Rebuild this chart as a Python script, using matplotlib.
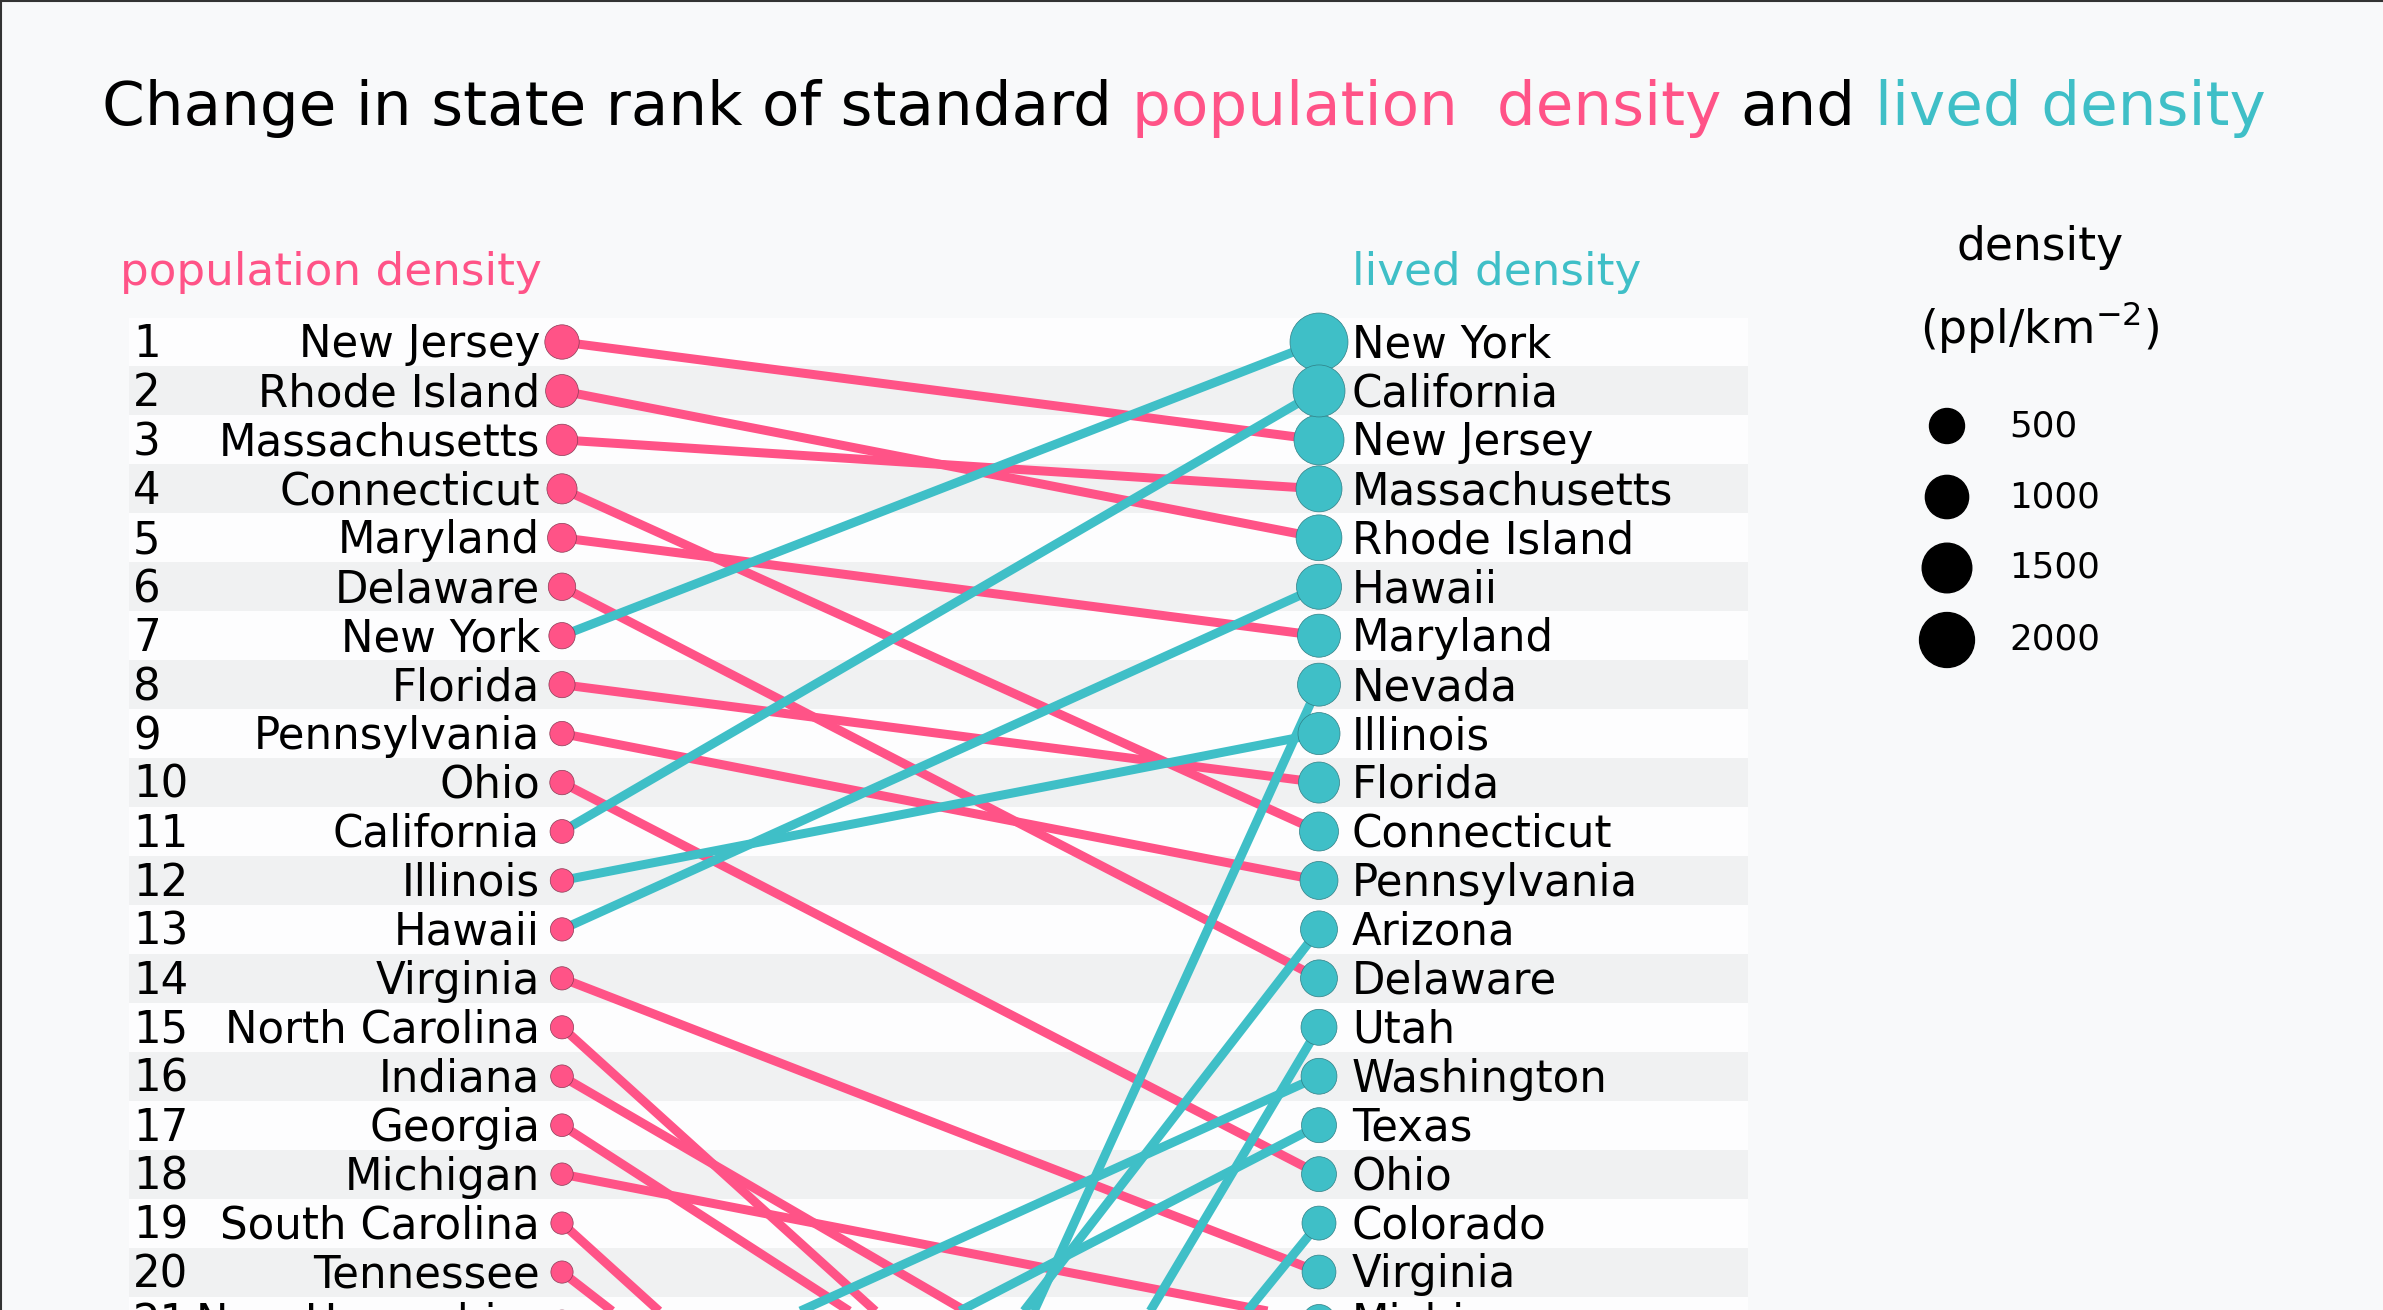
import numpy as np
import matplotlib
matplotlib.use("Agg")
import matplotlib.pyplot as plt
from matplotlib.lines import Line2D

plt.rcParams['font.family'] = ['DejaVu Sans']

# data (ranks are 1 = densest)
states = ['New Jersey', 'Rhode Island', 'Massachusetts', 'Connecticut', 'Maryland',
          'Delaware', 'New York', 'Florida', 'Pennsylvania', 'Ohio', 'California',
          'Illinois', 'Hawaii', 'Virginia', 'North Carolina', 'Indiana', 'Georgia',
          'Michigan', 'South Carolina', 'Tennessee', 'New Hampshire', 'Washington',
          'Texas', 'Arizona', 'Colorado', 'Utah', 'Nevada']
pop_rank = [1, 2, 3, 4, 5, 6, 7, 8, 9, 10, 11, 12, 13, 14, 15, 16, 17, 18, 19, 20,
            21, 23, 25, 33, 38, 41, 42]
lived_rank = [3, 5, 4, 11, 7, 14, 1, 10, 12, 18, 2, 9, 6, 20, 29, 25, 27, 21, 33, 32,
              36, 16, 17, 13, 19, 15, 8]
# people per km2
pop_density = [470, 394, 336, 286, 241, 193, 159, 154, 110, 110, 97, 89, 85, 84, 83,
               73, 73, 68, 66, 64, 59, 44, 43, 25, 21, 15, 11]
lived_density = [1540, 1190, 1205, 720, 985, 600, 2320, 850, 660, 495, 1720, 915, 1130,
                 445, 340, 370, 355, 405, 300, 320, 280, 545, 500, 605, 450, 550, 980]
legend_values = [500, 1000, 1500, 2000]

pink = '#ff5387'
teal = '#3fbfc7'
bg = '#f8f9fa'

W, H, DPI = 2383, 1310, 100
fig = plt.figure(figsize=(W / DPI, H / DPI), dpi=DPI, facecolor=bg)
renderer = fig.canvas.get_renderer()

# axes covers whole figure; x: 0 = left dots, 1 = right dots; y: rank
x0_px, x1_px = 562, 1319
r1_px, row_px = 342, 48.95
ax = fig.add_axes([0, 0, 1, 1])
ax.set_facecolor(bg)
ax.set_xlim(-x0_px / (x1_px - x0_px), (W - x0_px) / (x1_px - x0_px))
ax.set_ylim(1 + (H - r1_px) / row_px, 1 - r1_px / row_px)
ax.axis('off')


def px2x(px):
    return (px - x0_px) / (x1_px - x0_px)


def diam(v):
    # marker diameter in pixels, linear in sqrt(density)
    return 15.1 + 0.89 * np.sqrt(np.asarray(v, dtype=float))


def msize(v):
    return (diam(v) * 72 / DPI) ** 2


def fit_size(txt, width_px, fs0=30, **kw):
    # font size that makes txt come out width_px wide
    t = fig.text(0, 0, txt, fontsize=fs0, **kw)
    w = t.get_window_extent(renderer).width
    t.remove()
    return fs0 * width_px / w


# striped rows
rows = np.arange(1, 26)
band_l, band_r = px2x(129), px2x(1748)
ax.barh(rows, band_r - band_l, left=band_l, height=1.0,
        color=['#fdfdfe' if r % 2 else '#f0f1f2' for r in rows], zorder=0)

# slope lines
lw = 9 * 72 / DPI
for i in range(len(states)):
    if lived_rank[i] >= pop_rank[i]:
        ax.plot([0, 1], [pop_rank[i], lived_rank[i]], color=pink, lw=lw,
                solid_capstyle='butt', zorder=2)
for i in range(len(states)):
    if lived_rank[i] < pop_rank[i]:
        ax.plot([0, 1], [pop_rank[i], lived_rank[i]], color=teal, lw=lw,
                solid_capstyle='butt', zorder=3)

ax.scatter(np.zeros(len(states)), pop_rank, s=msize(pop_density), color=pink,
           edgecolor='#8a3a55', linewidth=0.5, zorder=4)
ax.scatter(np.ones(len(states)), lived_rank, s=msize(lived_density), color=teal,
           edgecolor='#2f7f85', linewidth=0.5, zorder=4)

lab_fs = fit_size('Massachusetts', 322)
dy = 0.06
for i, s in enumerate(states):
    if pop_rank[i] <= 22:
        ax.text(px2x(133), pop_rank[i] + dy, str(pop_rank[i]), fontsize=lab_fs,
                ha='left', va='center', zorder=5)
        ax.text(px2x(540), pop_rank[i] + dy, s, fontsize=lab_fs, ha='right',
                va='center', zorder=5)
    if lived_rank[i] <= 22:
        ax.text(px2x(1352), lived_rank[i] + dy, s, fontsize=lab_fs, ha='left',
                va='center', zorder=5)

sub_fs = fit_size('population density', 420)
ax.text(px2x(120), -0.42, 'population density', fontsize=sub_fs, color=pink,
        ha='left', va='center')
ax.text(px2x(1352), -0.42, 'lived density', fontsize=sub_fs, color=teal,
        ha='left', va='center')

# multi-colour title
title_parts = ['Change in state rank of standard', 'population  density', 'and',
               'lived density']
title_cols = ['black', pink, 'black', teal]
t_fs = fit_size('Change in state rank of standard population  density and '
                'lived density', 2163)
probe1 = fig.text(0, 0, 'a a', fontsize=t_fs)
probe2 = fig.text(0, 0, 'aa', fontsize=t_fs)
space = (probe1.get_window_extent(renderer).width
         - probe2.get_window_extent(renderer).width)
probe1.remove()
probe2.remove()
xpos = 102
for part, col in zip(title_parts, title_cols):
    t = fig.text(xpos / W, 1 - 109 / H, part, fontsize=t_fs, color=col,
                 ha='left', va='center')
    xpos += t.get_window_extent(renderer).width + space

# size legend
leg_fs = fit_size('density', 167)
fig.text(2040 / W, 1 - 248 / H, 'density', fontsize=leg_fs, ha='center',
         va='center')
fig.text(2040 / W, 1 - 327 / H, '(ppl/km$^{-2}$)', fontsize=leg_fs, ha='center',
         va='center')
leg_y = [426, 497, 568, 640]
num_fs = fit_size('500', 68)
for v, yp in zip(legend_values, leg_y):
    fig.text(2009 / W, 1 - yp / H, str(v), fontsize=num_fs, ha='left',
             va='center')
ax.scatter([px2x(1947)] * 4, [1 + (yp - r1_px) / row_px for yp in leg_y],
           s=msize(legend_values), color='black', zorder=5)

# frame
fig.add_artist(Line2D([0, 1], [1 - 1 / H, 1 - 1 / H], transform=fig.transFigure,
                      color='#333333', lw=1.5))
fig.add_artist(Line2D([1 / W, 1 / W], [0, 1], transform=fig.transFigure,
                      color='#333333', lw=1.5))

fig.savefig('out.png', dpi=DPI, facecolor=bg)
